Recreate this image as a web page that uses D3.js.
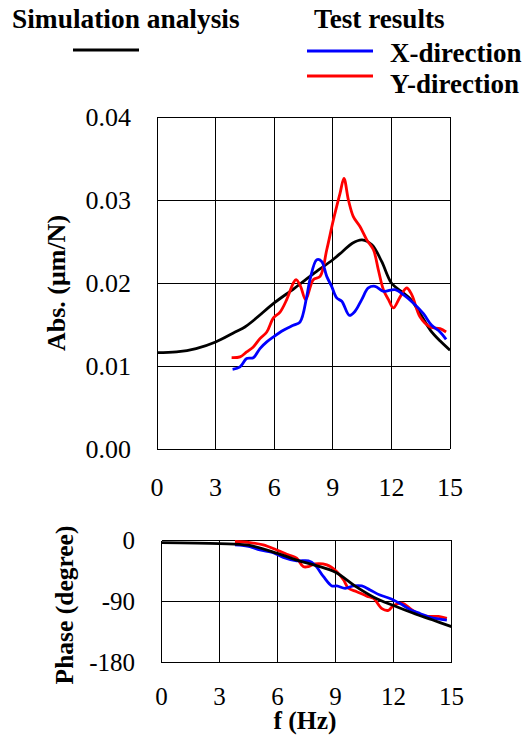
<!DOCTYPE html>
<html>
<head>
<meta charset="utf-8">
<script src="https://cdn.jsdelivr.net/npm/d3@7"></script>
</head>
<body style="margin:0; background:#fff">
<script>
    // frequency ticks
    var fTicks = [0, 3, 6, 9, 12, 15];
    var absTicks = [0, 0.01, 0.02, 0.03, 0.04];
    var phaseTicks = [0, -90, -180];

    // amplitude, simulation
    var simF   = [0, 1, 2, 3, 4, 4.5, 5, 6, 7, 7.5, 8, 9, 9.5, 10, 10.5, 11, 11.5, 12, 12.5, 13, 13.5, 14, 14.5, 15];
    var simAbs = [0.0116, 0.0117, 0.0121, 0.0129, 0.0141, 0.0147, 0.0156, 0.0176, 0.0193, 0.0202, 0.0211, 0.0228, 0.0238, 0.0248, 0.0252, 0.0246, 0.0226, 0.0200, 0.0190, 0.0180, 0.0162, 0.0143, 0.0130, 0.0119];

    // amplitude, test Y-direction
    var yF   = [3.82, 4.25, 4.59, 4.93, 5.27, 5.62, 5.96, 6.3, 6.64, 6.98, 7.12, 7.35, 7.61, 8.0, 8.35, 8.69, 9.03, 9.37, 9.57, 9.8, 10.05, 10.39, 10.74, 11.08, 11.33, 11.59, 11.85, 12.1, 12.44, 12.78, 13.04, 13.47, 13.98, 14.49, 14.8];
    var yAbs = [0.0110, 0.0111, 0.0117, 0.0123, 0.0133, 0.0141, 0.0158, 0.0165, 0.0180, 0.0200, 0.0204, 0.0196, 0.0180, 0.0204, 0.0208, 0.0240, 0.0276, 0.0308, 0.0326, 0.0300, 0.0280, 0.0268, 0.0252, 0.0240, 0.0216, 0.0192, 0.0180, 0.0170, 0.0183, 0.0194, 0.0186, 0.0159, 0.0147, 0.0145, 0.0141];

    // amplitude, test X-direction
    var xF   = [3.87, 4.25, 4.59, 4.93, 5.27, 5.62, 5.96, 6.47, 6.98, 7.32, 7.66, 7.83, 8.18, 8.43, 8.69, 8.94, 9.2, 9.46, 9.85, 10.14, 10.48, 10.82, 11.16, 11.59, 12.19, 12.61, 13.12, 13.64, 14.06, 14.49, 14.8];
    var xAbs = [0.0096, 0.0099, 0.0109, 0.0110, 0.0121, 0.0129, 0.0135, 0.0143, 0.0149, 0.0153, 0.0183, 0.0204, 0.0228, 0.0226, 0.0208, 0.0196, 0.0182, 0.0178, 0.0161, 0.0166, 0.0180, 0.0194, 0.0196, 0.0190, 0.0192, 0.0186, 0.0176, 0.0163, 0.0149, 0.0141, 0.0132];

    // phase, simulation
    var simPF = [0, 3, 4.5, 6, 7, 8, 9, 10, 11, 12, 13, 14, 15];
    var simPh = [-3, -4.5, -7, -19, -29, -37, -47, -67, -84, -96, -107, -117, -127];

    // phase, test Y-direction
    var yPF = [3.8, 4.57, 5.26, 5.96, 6.56, 6.99, 7.33, 7.6, 7.94, 8.55, 9.07, 9.41, 9.67, 10.1, 10.62, 10.97, 11.4, 11.74, 12.0, 12.44, 12.87, 13.39, 13.9, 14.33, 14.76];
    var yPh = [-1.5, -3, -6.5, -14, -21, -26, -38.5, -38.5, -34.5, -36, -46, -58, -70.5, -75.5, -82, -85.5, -100.5, -103, -96, -92.5, -100.5, -110, -112, -112, -115];

    // phase, test X-direction
    var xPF = [3.8, 4.57, 5.09, 5.78, 6.3, 6.99, 7.6, 7.94, 8.37, 8.81, 9.07, 9.5, 9.93, 10.36, 10.79, 11.3, 11.82, 12.34, 12.87, 13.39, 13.9, 14.76];
    var xPh = [-6.5, -9, -14, -18, -25, -30, -30, -36, -53, -67, -67, -70.5, -67, -67, -73, -80.5, -85.5, -93, -102, -108, -113.5, -117.5];

    var svg = d3.select("body").append("svg")
        .attr("width", 522)
        .attr("height", 735);

    // top panel scales
    var x1 = d3.scaleLinear().domain([0, 15]).range([157, 450]);
    var y1 = d3.scaleLinear().domain([0, 0.04]).range([449, 117]);
    // bottom panel scales
    var x2 = d3.scaleLinear().domain([0, 15]).range([161.5, 451.5]);
    var y2 = d3.scaleLinear().domain([-180, 0]).range([662.5, 540.5]);

    function label(sel, size) {
        sel.style("font-family", "'Liberation Serif'")
            .style("font-size", (size || 26) + "px")
            .style("fill", "#000");
    }

    function drawPanel(x, y, yTicks, yFmt, yLabelX, xLabelY, size) {
        var g = svg.append("g");
        g.selectAll("line.v").data(fTicks).enter().append("line")
            .attr("class", "v")
            .attr("x1", function (d) { return x(d); })
            .attr("x2", function (d) { return x(d); })
            .attr("y1", y.range()[1])
            .attr("y2", y.range()[0]);
        g.selectAll("line.h").data(yTicks).enter().append("line")
            .attr("class", "h")
            .attr("x1", x.range()[0])
            .attr("x2", x.range()[1])
            .attr("y1", function (d) { return y(d); })
            .attr("y2", function (d) { return y(d); });
        g.selectAll("line")
            .style("stroke", "#000")
            .style("stroke-width", 1)
            .style("shape-rendering", "crispEdges");

        var t = svg.append("g");
        t.selectAll("text.y").data(yTicks).enter().append("text")
            .attr("class", "y")
            .attr("x", yLabelX)
            .attr("y", function (d) { return y(d); })
            .attr("dy", "0.35em")
            .attr("text-anchor", "end")
            .call(label, size)
            .text(yFmt);
        t.selectAll("text.x").data(fTicks).enter().append("text")
            .attr("class", "x")
            .attr("x", function (d) { return x(d); })
            .attr("y", xLabelY)
            .attr("text-anchor", "middle")
            .call(label, size)
            .text(function (d) { return d; });
    }

    drawPanel(x1, y1, absTicks, d3.format(".2f"), 131, 496, 26);
    drawPanel(x2, y2, phaseTicks, function (d) { return d; }, 135, 705, 25);

    function drawLine(fs, vs, x, y, color, w) {
        var pts = fs.map(function (f, i) { return [f, vs[i]]; });
        svg.append("path")
            .datum(pts)
            .attr("fill", "none")
            .attr("stroke", color)
            .attr("stroke-width", w)
            .attr("stroke-linejoin", "round")
            .attr("d", d3.line()
                .x(function (d) { return x(d[0]); })
                .y(function (d) { return y(d[1]); })
                .curve(d3.curveCatmullRom));
    }

    drawLine(simF, simAbs, x1, y1, "#000", 2.8);
    drawLine(yF, yAbs, x1, y1, "#ff0000", 2.8);
    drawLine(xF, xAbs, x1, y1, "#0000ff", 2.8);

    drawLine(yPF, yPh, x2, y2, "#ff0000", 2.8);
    drawLine(xPF, xPh, x2, y2, "#0000ff", 2.8);
    drawLine(simPF, simPh, x2, y2, "#000", 2.8);

    function title(x, y, txt, rot, size) {
        return svg.append("text")
            .attr("transform", "translate(" + x + "," + y + ")" + (rot ? " rotate(-90)" : ""))
            .call(label, size)
            .style("font-weight", "bold")
            .text(txt);
    }

    // axis titles
    title(65, 283, "Abs. (\u03bcm/N)", true, 26).attr("text-anchor", "middle");
    title(73, 605, "Phase (degree)", true, 25.5).attr("text-anchor", "middle");
    title(305, 729, "f (Hz)", false, 25.5).attr("text-anchor", "middle");

    // legend
    title(12, 28, "Simulation analysis", false, 27.4);
    svg.append("line").attr("x1", 73).attr("x2", 139).attr("y1", 50).attr("y2", 50)
        .attr("stroke", "#000").attr("stroke-width", 2.8);
    title(314, 28, "Test results", false, 27.2);
    svg.append("line").attr("x1", 307).attr("x2", 373).attr("y1", 51).attr("y2", 51)
        .attr("stroke", "#0000ff").attr("stroke-width", 2.8);
    title(390, 62, "X-direction", false, 27);
    svg.append("line").attr("x1", 307).attr("x2", 373).attr("y1", 76).attr("y2", 76)
        .attr("stroke", "#ff0000").attr("stroke-width", 2.8);
    title(390, 93, "Y-direction", false, 27);
</script>
</body>
</html>
